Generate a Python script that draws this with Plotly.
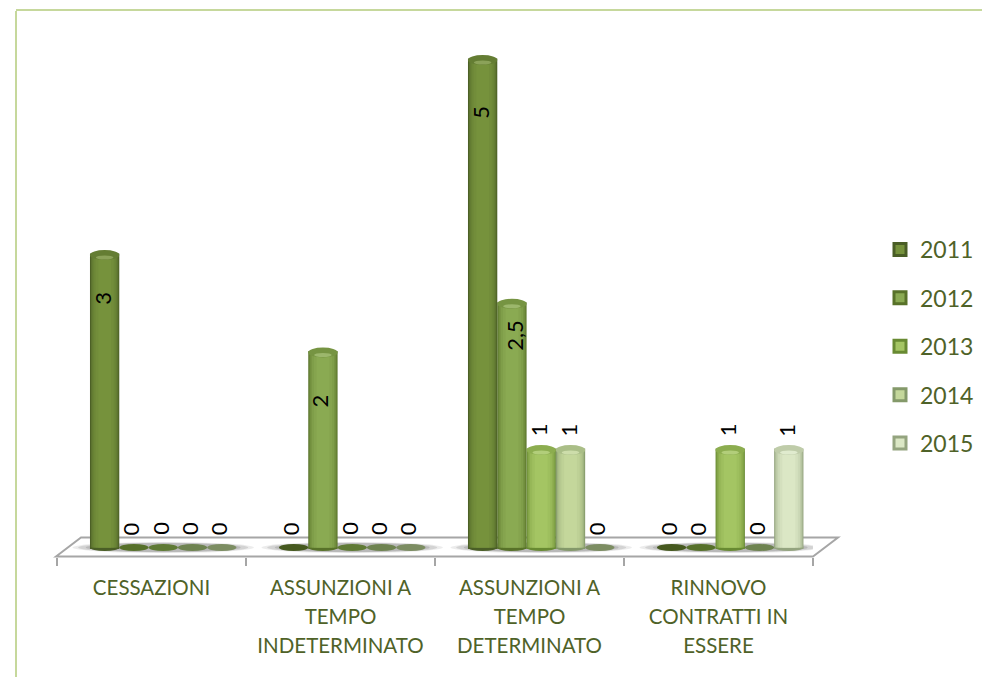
import plotly.graph_objects as go

categories = ["CESSAZIONI", "ASSUNZIONI A<br>TEMPO<br>INDETERMINATO",
              "ASSUNZIONI A<br>TEMPO<br>DETERMINATO", "RINNOVO<br>CONTRATTI IN<br>ESSERE"]
years = ["2011", "2012", "2013", "2014", "2015"]
v2011 = [3, 0, 5, 0]
v2012 = [0, 2, 2.5, 0]
v2013 = [0, 0, 1, 1]
v2014 = [0, 0, 1, 0]
v2015 = [0, 0, 0, 1]
series = [v2011, v2012, v2013, v2014, v2015]
edge_colors = ["#4a5e26", "#587229", "#688a32", "#84996a", "#94a47f"]
mid_colors = ["#76923c", "#8aaa52", "#a4c563", "#c4d79b", "#dbe7c5"]
zero_colors = ["#46591f", "#56702a", "#5f7a35", "#6e8350", "#7c8d62"]

W, H = 982, 677
L, R, T, B = 57, 169, 30, 120
plot_w, plot_h = W - L - R, H - T - B
Y_UNIT = 97.5
Y0_PX = 547.5
y_min = -(H - B - Y0_PX) / Y_UNIT
y_max = (Y0_PX - T) / Y_UNIT

def px(x):
    return (x - L) / plot_w
def py(y):
    return (H - B - y) / plot_h
def mix(a, b, t):
    a = [int(a[i:i + 2], 16) for i in (1, 3, 5)]
    b = [int(b[i:i + 2], 16) for i in (1, 3, 5)]
    return "#%02x%02x%02x" % tuple(round(p + (q - p) * t) for p, q in zip(a, b))

BAR_W = 0.155
SHIFT = 0.062
LINE = 3
strips = [1.0, 0.94, 0.86, 0.76, 0.62, 0.44]
shades = [0.75, 0.4, 0.6, 0.78, 0.9, 1.0]
fig = go.Figure()
for s, (name, vals) in enumerate(zip(years, series)):
    centre = SHIFT + (s - 2) * BAR_W
    shown = [v if v else None for v in vals]
    for k, f in enumerate(strips):
        w = BAR_W * f if k else BAR_W - LINE / plot_w * 4
        fig.add_trace(go.Bar(
            x=categories, y=shown, name=name, legendgroup=name,
            showlegend=k == 0, width=w, offset=centre - w / 2,
            marker=dict(color=mid_colors[s] if k == 0 else mix(edge_colors[s], mid_colors[s], shades[k]),
                        line=dict(color=edge_colors[s], width=LINE if k == 0 else 0)),
            hoverinfo="skip" if k else None))

shapes = []
# page frame
frame = "#c6d89c"
shapes.append(dict(type="line", xref="paper", yref="paper", x0=px(16), x1=px(16), y0=py(11), y1=py(677),
                   line=dict(color=frame, width=2)))
shapes.append(dict(type="line", xref="paper", yref="paper", x0=px(16), x1=px(982), y0=py(10), y1=py(10),
                   line=dict(color=frame, width=2)))
# floor
path = "M %f %f L %f %f L %f %f L %f %f Z" % (px(56), py(556.5), px(81), py(537.5), px(838), py(537.5), px(813), py(556.5))
shapes.append(dict(type="path", xref="paper", yref="paper", path=path, fillcolor="#ffffff",
                   line=dict(color="#a6a6a6", width=2), layer="below"))
# soft shadows on the floor
for c in range(4):
    for hw, hh, op in [(0.48, 5.5, 0.10), (0.45, 5.0, 0.14), (0.41, 4.5, 0.18)]:
        shapes.append(dict(type="circle", xref="x", yref="y", layer="below",
                           x0=c + SHIFT - hw, x1=c + SHIFT + hw, y0=-hh / Y_UNIT, y1=hh / Y_UNIT,
                           fillcolor="#404040", opacity=op, line_width=0))
annotations = []
for s, vals in enumerate(series):
    for c, v in enumerate(vals):
        xc = c + SHIFT + (s - 2) * BAR_W
        x0 = xc - BAR_W / 2
        x1 = xc + BAR_W / 2
        if v == 0:
            shapes.append(dict(type="circle", xref="x", yref="y", x0=x0, x1=x1, y0=-3.5 / Y_UNIT, y1=3.5 / Y_UNIT,
                               fillcolor=zero_colors[s], line_width=0, layer="below"))
            yshift = 19
            xshift = -3
        else:
            shapes.append(dict(type="circle", xref="x", yref="y", x0=x0, x1=x1, y0=-3.5 / Y_UNIT, y1=3.5 / Y_UNIT,
                               fillcolor=edge_colors[s], line_width=0, layer="below"))
            shapes.append(dict(type="circle", xref="x", yref="y", x0=x0, x1=x1,
                               y0=v - 5 / Y_UNIT, y1=v + 5 / Y_UNIT,
                               fillcolor=mix(edge_colors[s], mid_colors[s], 0.6), line_width=0))
            shapes.append(dict(type="circle", xref="x", yref="y",
                               x0=xc - BAR_W * 0.3, x1=xc + BAR_W * 0.3,
                               y0=v - 4.5 / Y_UNIT, y1=v - 0.5 / Y_UNIT,
                               fillcolor=mix(mid_colors[s], "#ffffff", 0.15), line_width=0))
            yshift = {5: -52, 3: -43, 2.5: -31, 2: -48, 1: 20}[v]
            xshift = 3 if v == 2.5 else -3
        annotations.append(dict(x=xc, y=v, xref="x", yref="y", yshift=yshift, xshift=xshift,
                                text=str(v).replace(".", ","), textangle=-90, showarrow=False,
                                font=dict(family="Lato, sans-serif", size=22, color="#000000")))

LABEL = 20.5
fig.update_layout(
    width=W, height=H, margin=dict(l=L, r=R, t=T, b=B, autoexpand=False),
    paper_bgcolor="#ffffff", plot_bgcolor="rgba(0,0,0,0)",
    barmode="overlay", showlegend=True,
    font=dict(family="Lato, sans-serif", color="#4f6228"),
    xaxis=dict(type="category", categoryorder="array", categoryarray=categories,
               range=[-0.5, 3.5], tickson="boundaries", ticks="outside", ticklen=8, tickwidth=1.5,
               tickcolor="#a6a6a6", showline=False, showgrid=False, zeroline=False,
               tickmode="array", tickvals=categories, ticklabelstandoff=15,
               ticktext=["<br>".join('<span style="font-size:%gpx">%s</span>' % (LABEL, p)
                                     for p in c.split("<br>")) for c in categories],
               tickangle=0, tickfont=dict(size=22.3, color="#4f6228", family="Lato, sans-serif")),
    yaxis=dict(range=[y_min, y_max], visible=False, showgrid=False, zeroline=False),
    legend=dict(x=px(880), y=py(228), xanchor="left", yanchor="top", tracegroupgap=15.5,
                font=dict(size=23, color="#4f6228", family="Lato, sans-serif"),
                bgcolor="rgba(0,0,0,0)", itemclick=False, itemdoubleclick=False),
    shapes=shapes, annotations=annotations)

fig.write_html("out.html", post_script="document.body.style.margin='0';",
               config=dict(displayModeBar=False))
